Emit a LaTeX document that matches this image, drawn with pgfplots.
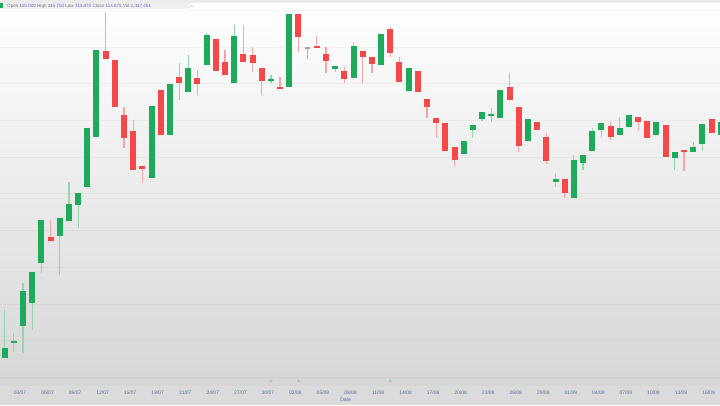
\documentclass[border=0pt]{standalone}
\usepackage{pgfplots}
\pgfplotsset{compat=1.18}
\usepackage{pgfplotstable}
\usepackage{fontspec}
\setmainfont{Liberation Sans}
\definecolor{cg}{RGB}{30,170,90}
\definecolor{cr}{RGB}{246,72,72}
\definecolor{gw}{RGB}{150,212,172}
\definecolor{rw}{RGB}{244,165,165}
\definecolor{tickc}{RGB}{80,110,175}
\definecolor{legc}{RGB}{100,100,205}

\pgfplotstableread{
x o h l c
1 42 90 42 52
2 57 67 48 59
3 74 117 47 109
4 97 128 70 128
5 137 180 127 180
7 164 182 125 182
8 179 218 179 196
9 195 207 172 207
10 213 272 213 272
11 263 350 263 350
17 222 294 222 294
19 265 316 265 316
21 308 345 308 332
23 335 367 335 365
26 317 375 317 364
30 319 325 317 321
32 313 386 313 386
37 331 334 328 334
39 322 358 322 354
42 335 366 335 366
45 309 332 309 332
51 246 259 246 259
52 270 275 262 275
53 281 288 279 288
54 284 292 278 286
55 282 310 282 310
58 259 281 259 281
61 218 227 213 221
63 202 245 202 240
64 237 245 230 245
65 249 272 249 269
66 270 277 263 277
68 265 283 265 272
69 273 285 273 285
72 265 278 265 278
74 242 248 230 248
76 248 258 248 253
77 256 276 249 276
79 265 285 265 278
}\tg

\pgfplotstableread{
x o h l c
6 163 180 159 159
12 349 388 341 341
13 340 340 293 293
14 285 293 252 262
15 269 280 230 230
16 234 234 217 231
18 310 310 265 265
20 323 337 300 317
22 322 330 305 316
24 361 361 329 329
25 338 350 325 325
27 346 375 338 338
28 345 353 328 337
29 332 332 305 319
31 313 323 311 311
33 386 386 348 363
35 354 364 352 352
36 346 353 327 339
38 329 333 317 321
40 349 349 317 343
41 343 343 327 336
43 371 373 343 347
44 338 343 318 318
46 329 329 308 308
47 301 301 282 293
48 282 282 262 277
49 277 277 249 249
50 253 253 234 240
56 313 327 300 300
57 293 293 248 254
59 278 278 270 270
60 263 267 236 239
62 221 221 202 207
67 274 278 260 263
70 283 283 269 278
71 279 279 262 262
73 275 275 243 243
75 250 250 229 248
78 281 281 267 267
}\tr

\pgfplotstableread{
x o h l c
34 352 353 341 352
}\tn

\begin{document}
\begin{tikzpicture}[x=1bp,y=1bp]
\useasboundingbox (0,0) rectangle (720,405);
\fill[black!14] (0,0) rectangle (720,20);
\begin{axis}[at={(0,20)}, anchor=south west, scale only axis,
  width=720bp, height=382bp,
  xmin=0.49, xmax=78.92, ymin=15, ymax=397,
  axis background/.style={top color=white, bottom color=black!16},
  axis line style={draw=none}, major tick length=0pt,
  ytick={22.7,59.4,...,391}, yticklabels={},
  ymajorgrids, major grid style={draw=black, opacity=0.04, line width=0.8bp},
  xtick={2.67,5.67,...,78},
  xticklabels={03/07,06/07,09/07,12/07,15/07,18/07,21/07,24/07,27/07,30/07,02/08,05/08,08/08,11/08,14/08,17/08,20/08,23/08,26/08,29/08,01/09,04/09,07/09,10/09,13/09,16/09},
  xticklabel style={font=\fontsize{5}{6}\selectfont, text=tickc, yshift=-2bp},
  xlabel={Date},
  xlabel style={font=\fontsize{5}{6}\selectfont, text=tickc, at={(axis description cs:0.48,0)}, anchor=north, yshift=-10bp},
  /pgf/number format/assume math mode=true,
  clip=true]
% wicks
\addplot[draw=none, mark=none, forget plot, error bars/.cd, y dir=plus, y explicit, error mark=none,
  error bar style={draw=gw, line width=1.2bp, solid}]
  table[x=x, y=l, y error plus expr=\thisrow{h}-\thisrow{l}] {\tg};
\addplot[draw=none, mark=none, forget plot, error bars/.cd, y dir=plus, y explicit, error mark=none,
  error bar style={draw=rw, line width=1.2bp, solid}]
  table[x=x, y=l, y error plus expr=\thisrow{h}-\thisrow{l}] {\tr};
\addplot[draw=none, mark=none, forget plot, error bars/.cd, y dir=plus, y explicit, error mark=none,
  error bar style={draw=black!30, line width=1.2bp, solid}]
  table[x=x, y=l, y error plus expr=\thisrow{h}-\thisrow{l}] {\tn};
% bodies
\addplot[draw=none, mark=none, forget plot, error bars/.cd, y dir=plus, y explicit, error mark=none,
  error bar style={draw=cg, line width=6bp, solid}]
  table[x=x, y=o, y error plus expr=\thisrow{c}-\thisrow{o}] {\tg};
\addplot[draw=none, mark=none, forget plot, error bars/.cd, y dir=plus, y explicit, error mark=none,
  error bar style={draw=cr, line width=6bp, solid}]
  table[x=x, y=c, y error plus expr=\thisrow{o}-\thisrow{c}] {\tr};
\addplot[draw=none, mark=none, forget plot, error bars/.cd, x dir=both, x fixed=0.3, error mark=none,
  error bar style={draw=black!35, line width=1.4bp, solid}]
  table[x=x, y=o] {\tn};
% event markers
\addplot[only marks, mark=triangle*, mark size=1.6bp, color=gw, forget plot]
  coordinates {(30,19) (33,19) (43,19)};
\end{axis}
\fill[black!8] (0,402) rectangle (720,405);
\fill[white] (0,395) rectangle (720,402);
\fill[black!6] (0,395.5) rectangle (190,402);
\fill[cg] (0.5,396.5) rectangle (2.5,401.5);
\node[anchor=west, inner sep=0pt, font=\fontsize{4.6}{5}\selectfont] at (7,398.7)
  {\textcolor{black!55}{Open} \textcolor{legc}{115.000} \textcolor{black!55}{High} \textcolor{legc}{115.750} \textcolor{black!55}{Low} \textcolor{legc}{113.875} \textcolor{black!55}{Close} \textcolor{legc}{114.875} \textcolor{black!55}{Vol} \textcolor{legc}{2,317,451}};
\node[inner sep=0pt, font=\fontsize{4}{5}\selectfont, text=black!40] at (192,398.7) {x};
\end{tikzpicture}
\end{document}
